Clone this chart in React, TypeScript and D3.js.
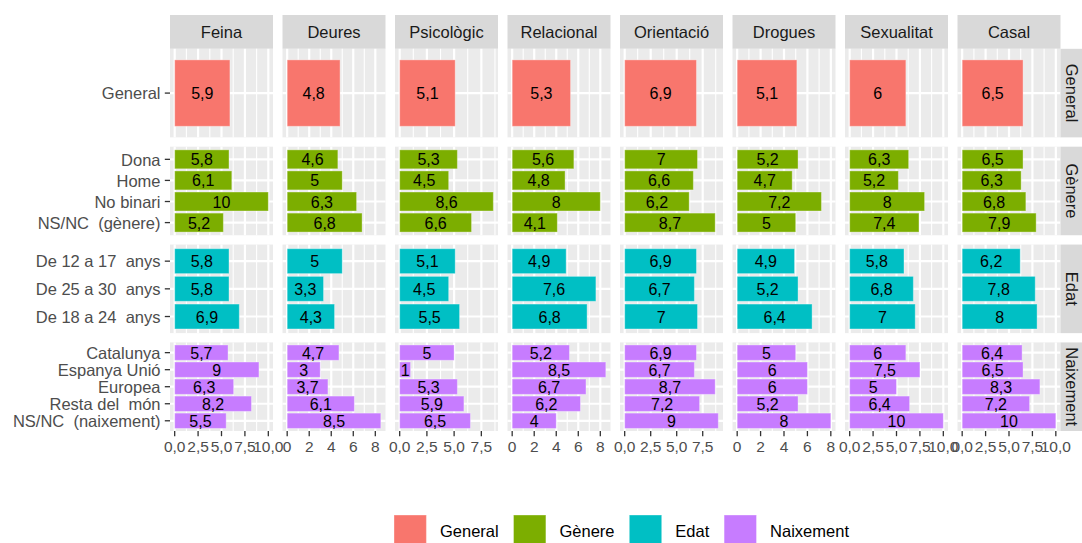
import React from "react";
import * as d3 from "d3";

// ---------- DATA ----------
const columns = ["Feina", "Deures", "Psicològic", "Relacional", "Orientació", "Drogues", "Sexualitat", "Casal"];
const rowGroups = ["General", "Gènere", "Edat", "Naixement"];
const groupColors = ["#F8766D", "#7CAE00", "#00BFC4", "#C77CFF"];

const generalCats = ["General"];
const genereCats = ["Dona", "Home", "No binari", "NS/NC  (gènere)"];
const edatCats = ["De 12 a 17  anys", "De 25 a 30  anys", "De 18 a 24  anys"];
const naixementCats = ["Catalunya", "Espanya Unió", "Europea", "Resta del  món", "NS/NC  (naixement)"];

// values per column, in order: general | gènere (4) | edat (3) | naixement (5)
const feina = [5.9, 5.8, 6.1, 10, 5.2, 5.8, 5.8, 6.9, 5.7, 9, 6.3, 8.2, 5.5];
const deures = [4.8, 4.6, 5, 6.3, 6.8, 5, 3.3, 4.3, 4.7, 3, 3.7, 6.1, 8.5];
const psicologic = [5.1, 5.3, 4.5, 8.6, 6.6, 5.1, 4.5, 5.5, 5, 1, 5.3, 5.9, 6.5];
const relacional = [5.3, 5.6, 4.8, 8, 4.1, 4.9, 7.6, 6.8, 5.2, 8.5, 6.7, 6.2, 4];
const orientacio = [6.9, 7, 6.6, 6.2, 8.7, 6.9, 6.7, 7, 6.9, 6.7, 8.7, 7.2, 9];
const drogues = [5.1, 5.2, 4.7, 7.2, 5, 4.9, 5.2, 6.4, 5, 6, 6, 5.2, 8];
const sexualitat = [6, 6.3, 5.2, 8, 7.4, 5.8, 6.8, 7, 6, 7.5, 5, 6.4, 10];
const casal = [6.5, 6.5, 6.3, 6.8, 7.9, 6.2, 7.8, 8, 6.4, 6.5, 8.3, 7.2, 10];

const ticksQuarter5 = [0, 2.5, 5, 7.5, 10];
const ticksQuarter4 = [0, 2.5, 5, 7.5];
const ticksEven = [0, 2, 4, 6, 8];

// ---------- ASSEMBLY ----------
const rowCats = [generalCats, genereCats, edatCats, naixementCats];
const columnValues = [feina, deures, psicologic, relacional, orientacio, drogues, sexualitat, casal];
const columnTicks = [ticksQuarter5, ticksEven, ticksQuarter4, ticksEven, ticksQuarter4, ticksEven, ticksQuarter5, ticksQuarter5];
const columnDecimal = [true, false, true, false, true, false, true, true];

const locale = d3.formatLocale({ decimal: ",", thousands: ".", grouping: [3], currency: ["", "€"] });
const fmt1 = locale.format(".1f");
const fmt0 = locale.format("d");
const fmtValue = (v: number) => String(v).replace(".", ",");

// ---------- LAYOUT ----------
const W = 1082;
const H = 543;
const panelLeft = 170;
const panelRight = 1060.5;
const gap = 9.5;
const panelW = (panelRight - panelLeft - gap * 7) / 8;
const panelTop = 48.8;
const panelBottom = 431;
const vgap = 9.3;
const panelH = (panelBottom - panelTop - vgap * 3) / 4;
const stripTop = 15;
const stripW = 22;
const FONT = "'Liberation Sans', Arial, Helvetica, sans-serif";
const FS = 16.5;

export default function App() {
  const els: React.ReactNode[] = [];

  const offsets: number[] = [];
  let acc = 0;
  rowCats.forEach((c) => {
    offsets.push(acc);
    acc += c.length;
  });

  columns.forEach((col, ci) => {
    const x0 = panelLeft + ci * (panelW + gap);
    const vals = columnValues[ci];
    const maxV = d3.max(vals) as number;
    const x = d3.scaleLinear().domain([-0.05 * maxV, 1.05 * maxV]).range([x0, x0 + panelW]);
    const ticks = columnTicks[ci];
    const step = ticks[1] - ticks[0];
    const minors: number[] = [];
    for (let t = ticks[0] - step / 2; t <= x.domain()[1]; t += step) {
      if (t >= x.domain()[0] && !ticks.includes(t)) minors.push(t);
    }

    els.push(
      <g key={`strip-${ci}`}>
        <rect x={x0} y={stripTop} width={panelW} height={panelTop - stripTop} fill="#D9D9D9" />
        <text x={x0 + panelW / 2} y={(stripTop + panelTop) / 2} dy="0.38em" textAnchor="middle" fontSize={FS} fill="#1A1A1A" fontFamily={FONT}>{col}</text>
      </g>
    );

    rowCats.forEach((cats, ri) => {
      const y0 = panelTop + ri * (panelH + vgap);
      const y = d3.scalePoint<string>().domain(cats).range([y0, y0 + panelH]).padding(0.6);
      const bh = y.step() * 0.9;
      const color = groupColors[ri];
      els.push(
        <g key={`p-${ci}-${ri}`}>
          <rect x={x0} y={y0} width={panelW} height={panelH} fill="#EBEBEB" />
          {minors.map((t) => (
            <line key={`mn${t}`} x1={x(t)} x2={x(t)} y1={y0} y2={y0 + panelH} stroke="#fff" strokeWidth={1.1} />
          ))}
          {ticks.map((t) => (
            <line key={`mj${t}`} x1={x(t)} x2={x(t)} y1={y0} y2={y0 + panelH} stroke="#fff" strokeWidth={2.2} />
          ))}
          {cats.map((c) => (
            <line key={`h${c}`} x1={x0} x2={x0 + panelW} y1={y(c)} y2={y(c)} stroke="#fff" strokeWidth={2.2} />
          ))}
          {cats.map((c, k) => {
            const v = vals[offsets[ri] + k];
            const cy = y(c) as number;
            return (
              <g key={`b${c}`}>
                <rect x={x(0)} y={cy - bh / 2} width={x(v) - x(0)} height={bh} fill={color} stroke="#ffffff" strokeOpacity={0.35} strokeWidth={1} />
                <text x={x(v / 2)} y={cy} dy="0.38em" textAnchor="middle" fontSize={FS - 0.5} fill="#000" fontFamily={FONT}>{fmtValue(v)}</text>
              </g>
            );
          })}
          {ci === 0 &&
            cats.map((c) => (
              <g key={`yl${c}`}>
                <line x1={x0 - 5.2} x2={x0} y1={y(c)} y2={y(c)} stroke="#333" strokeWidth={1.3} />
                <text x={x0 - 9.5} y={y(c)} dy="0.38em" textAnchor="end" fontSize={FS} fill="#4D4D4D" fontFamily={FONT} style={{ whiteSpace: "pre" }}>{c}</text>
              </g>
            ))}
        </g>
      );
    });

    els.push(
      <g key={`xa-${ci}`}>
        {ticks.map((t) => (
          <g key={`xt${t}`}>
            <line x1={x(t)} x2={x(t)} y1={panelBottom} y2={panelBottom + 5.2} stroke="#333" strokeWidth={1.3} />
            <text x={x(t)} y={panelBottom + 9} dy="0.76em" textAnchor="middle" fontSize={15.5} fill="#4D4D4D" fontFamily={FONT}>
              {columnDecimal[ci] ? fmt1(t) : fmt0(t)}
            </text>
          </g>
        ))}
      </g>
    );
  });

  rowGroups.forEach((g, ri) => {
    const y0 = panelTop + ri * (panelH + vgap);
    const cx = panelRight + stripW / 2;
    const cy = y0 + panelH / 2;
    els.push(
      <g key={`rs-${ri}`}>
        <rect x={panelRight} y={y0} width={stripW} height={panelH} fill="#D9D9D9" />
        <text x={cx} y={cy} dy="0.36em" textAnchor="middle" fontSize={FS} fill="#1A1A1A" fontFamily={FONT} transform={`rotate(90 ${cx} ${cy})`}>{g}</text>
      </g>
    );
  });

  const keyW = 32.4;
  const textWidths = [58.7, 55, 34, 78.9];
  const legendStart = 394;
  const keyTop = 515;
  let lx = legendStart;
  rowGroups.forEach((g, i) => {
    els.push(
      <g key={`lg-${i}`}>
        <rect x={lx} y={keyTop} width={keyW} height={keyW} fill={groupColors[i]} stroke="#ffffff" strokeOpacity={0.35} strokeWidth={1} />
        <text x={lx + keyW + 13.6} y={keyTop + keyW / 2} dy="0.36em" fontSize={FS} fill="#000" fontFamily={FONT}>{g}</text>
      </g>
    );
    lx += keyW + 13.6 + textWidths[i] + 14.8;
  });

  return (
    <svg width={W} height={H} style={{ position: "absolute", left: 0, top: 0, background: "#fff" }}>
      <rect x={0} y={0} width={W} height={H} fill="#fff" />
      {els}
    </svg>
  );
}
